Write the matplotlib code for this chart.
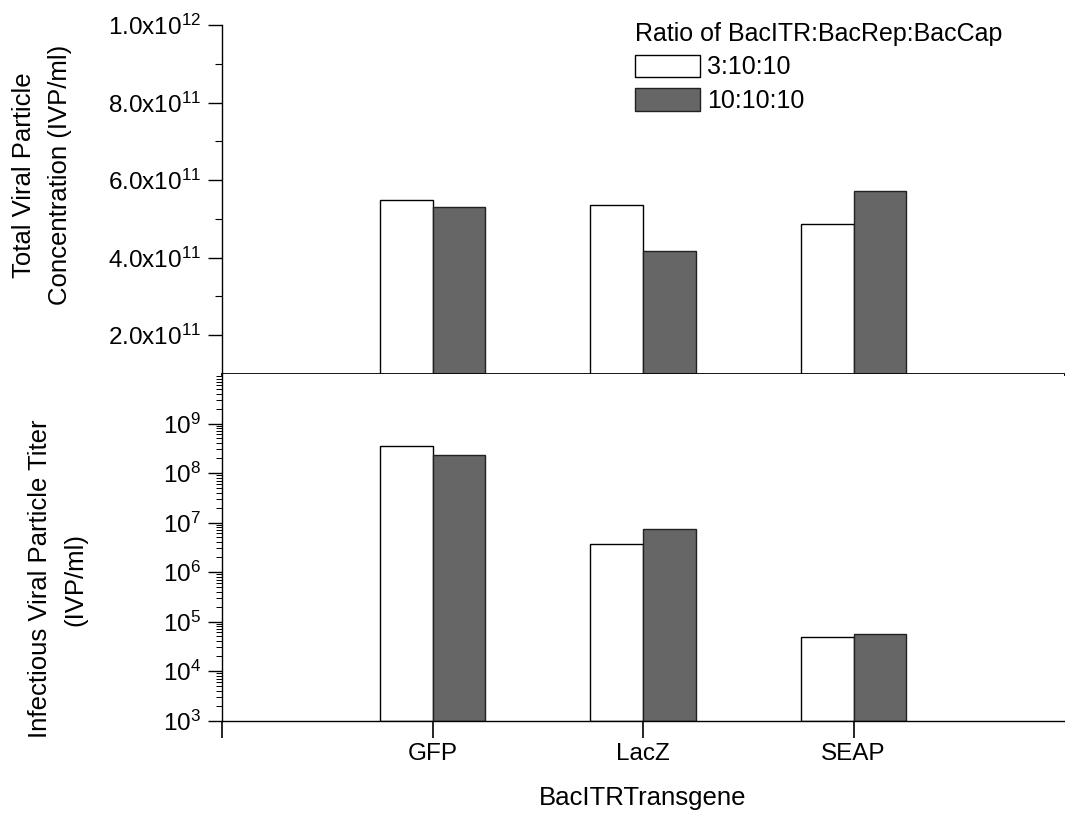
import numpy as np
import matplotlib
matplotlib.use('Agg')
import matplotlib.pyplot as plt
from matplotlib.ticker import FixedLocator, LogLocator, NullFormatter

plt.rcParams['font.family'] = ['Liberation Sans', 'DejaVu Sans']
plt.rcParams['mathtext.fontset'] = 'custom'
plt.rcParams['mathtext.rm'] = 'Liberation Sans'
plt.rcParams['mathtext.it'] = 'Liberation Sans:italic'
plt.rcParams['mathtext.default'] = 'regular'

# data
transgenes = ['GFP', 'LacZ', 'SEAP']
ratios = ['3:10:10', '10:10:10']
total_3 = [5.48e11, 5.35e11, 4.86e11]
total_10 = [5.30e11, 4.17e11, 5.72e11]
titer_3 = [3.47e8, 3.67e6, 4.67e4]
titer_10 = [2.33e8, 7.36e6, 5.55e4]

W, H = 1065, 817
fig = plt.figure(figsize=(W / 100, H / 100), dpi=100)

left = 222 / W
width = (1064 - 222) / W
y_mid = 374
ax1 = fig.add_axes([left, 1 - y_mid / H, width, (y_mid - 25) / H])
ax2 = fig.add_axes([left, 1 - 720.5 / H, width, (720.5 - y_mid) / H])

x = np.arange(1, len(transgenes) + 1)
bw = 0.25
white = dict(color='white', edgecolor='black', linewidth=1.0)
grey = dict(color='#666666', edgecolor='#222222', linewidth=1.0)

ax1.bar(x - bw / 2, total_3, bw, bottom=0, label=ratios[0], **white)
ax1.bar(x + bw / 2, total_10, bw, bottom=0, label=ratios[1], **grey)
ax2.bar(x - bw / 2, titer_3, bw, bottom=1e3, **white)
ax2.bar(x + bw / 2, titer_10, bw, bottom=1e3, **grey)

for ax in (ax1, ax2):
    ax.set_xlim(0, 4)
    ax.spines['top'].set_visible(False)
    ax.spines['right'].set_visible(False)
    ax.spines['left'].set_linewidth(1.0)
    ax.tick_params(axis='both', which='major', direction='out', length=10,
                   width=1.0, labelsize=17.5, pad=5)
    ax.tick_params(axis='y', which='minor', direction='out', length=5, width=0.8)

# upper panel: linear scale
ax1.set_ylim(1e11, 1e12)
major = [2e11, 4e11, 6e11, 8e11, 1e12]
ax1.set_yticks(major)
ax1.set_yticklabels(['%.1fx10$^{%d}$' % (v / 10 ** int(np.log10(v)), int(np.log10(v)))
                     for v in major])
ax1.yaxis.set_minor_locator(FixedLocator([3e11, 5e11, 7e11, 9e11]))
ax1.set_xticks(x)
ax1.set_xticklabels([])
ax1.spines['bottom'].set_linewidth(2.0)
ax1.tick_params(axis='x', length=12, width=1.5)

# lower panel: log scale
ax2.set_yscale('log')
ax2.set_ylim(1e3, 1e10)
ax2.set_yticks([10.0 ** k for k in range(3, 10)])
ax2.set_yticklabels(['10$^{%d}$' % k for k in range(3, 10)])
ax2.yaxis.set_minor_locator(LogLocator(base=10, subs=np.arange(2, 10), numticks=30))
ax2.yaxis.set_minor_formatter(NullFormatter())
ax2.tick_params(axis='y', which='minor', length=4, width=0.7)
ax2.set_xticks([0] + list(x))
ax2.set_xticklabels([''] + transgenes)
ax2.tick_params(axis='x', length=12, width=1.2, pad=4)
ax2.spines['bottom'].set_linewidth(1.0)

fig.text(left + width / 2, 1 - 798 / H, 'BacITRTransgene', fontsize=18.5,
         ha='center', va='center')
fig.text(42 / W, 1 - 175 / H, 'Total Viral Particle\nConcentration (IVP/ml)',
         fontsize=18.5, rotation=90, ha='center', va='center',
         multialignment='center', linespacing=1.6)
fig.text(58 / W, 1 - 579 / H, 'Infectious Viral Particle Titer\n(IVP/ml)',
         fontsize=18.5, rotation=90, ha='center', va='center',
         multialignment='center', linespacing=1.6)

leg = ax1.legend(title='Ratio of BacITR:BacRep:BacCap', loc='upper left',
                 bbox_to_anchor=(635 / W, 1 - 22 / H),
                 bbox_transform=fig.transFigure, frameon=False, fontsize=18,
                 title_fontsize=18, borderpad=0, borderaxespad=0,
                 handlelength=2.6, handleheight=1.0, handletextpad=0.3,
                 labelspacing=0.35, alignment='left')

fig.savefig('out.png', dpi=100)
